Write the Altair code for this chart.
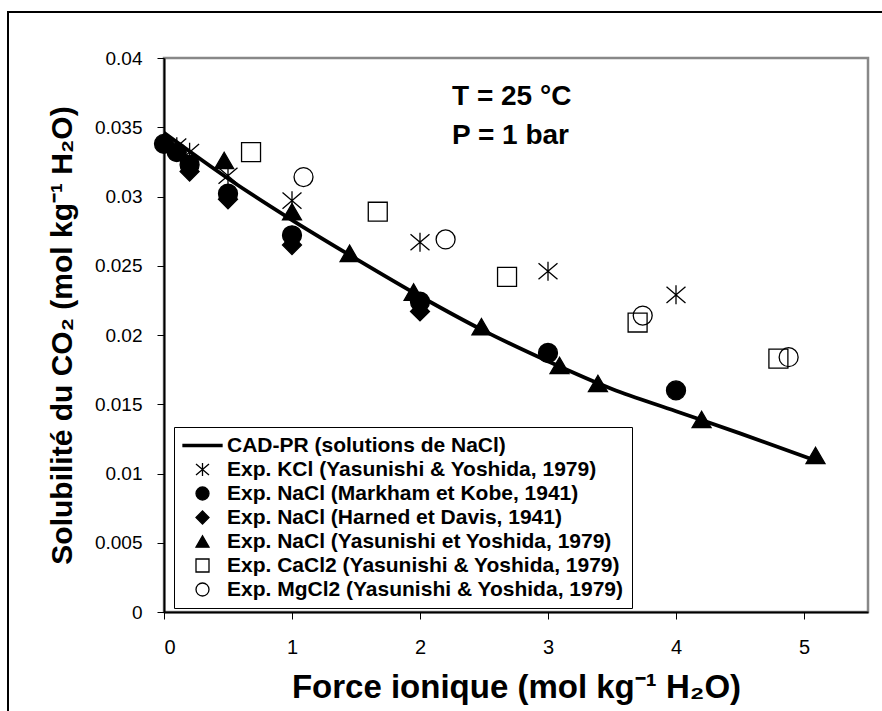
import altair as alt
import pandas as pd

# ---------------- data ----------------
S_LINE = "CAD-PR (solutions de NaCl)"
S_KCL = "Exp. KCl (Yasunishi & Yoshida, 1979)"
S_MARK = "Exp. NaCl (Markham et Kobe, 1941)"
S_HARN = "Exp. NaCl (Harned et Davis, 1941)"
S_YAS = "Exp. NaCl (Yasunishi et Yoshida, 1979)"
S_CA = "Exp. CaCl2 (Yasunishi & Yoshida, 1979)"
S_MG = "Exp. MgCl2 (Yasunishi & Yoshida, 1979)"
series_order = [S_LINE, S_KCL, S_MARK, S_HARN, S_YAS, S_CA, S_MG]

line_x = [0.0, 0.5, 1.0, 1.5, 2.0, 2.5, 3.0, 3.5, 4.0, 4.5, 5.1]
line_y = [0.0346, 0.0313, 0.0283, 0.0255, 0.0228, 0.0203, 0.0181, 0.0161, 0.0145, 0.0129, 0.0109]

kcl_x = [0.1, 0.2, 0.5, 1.0, 2.0, 3.0, 4.0]
kcl_y = [0.0336, 0.0332, 0.0315, 0.0297, 0.0267, 0.0246, 0.0229]

markham_x = [0.0, 0.1, 0.2, 0.5, 1.0, 2.0, 3.0, 4.0]
markham_y = [0.0338, 0.0332, 0.0323, 0.0302, 0.0272, 0.0224, 0.0187, 0.0160]

harned_x = [0.2, 0.5, 1.0, 2.0]
harned_y = [0.0318, 0.0298, 0.0265, 0.0217]

yas_x = [0.47, 1.0, 1.45, 1.95, 2.48, 3.09, 3.39, 4.2, 5.09]
yas_y = [0.0326, 0.0289, 0.0259, 0.0231, 0.0206, 0.0178, 0.0165, 0.0139, 0.0113]

cacl2_x = [0.68, 1.67, 2.68, 3.70, 4.80]
cacl2_y = [0.0332, 0.0289, 0.0242, 0.0209, 0.0183]

mgcl2_x = [1.09, 2.20, 3.74, 4.88]
mgcl2_y = [0.0314, 0.0269, 0.0214, 0.0184]

annot_text = ["T = 25 °C", "P = 1 bar"]
annot_x = [2.25, 2.25]
annot_y = [0.0366, 0.0338]

x_ticks = [0, 1, 2, 3, 4, 5]
y_ticks = [0, 0.005, 0.01, 0.015, 0.02, 0.025, 0.03, 0.035, 0.04]

# ---------------- styles ----------------
ASTERISK = "M0,-1L0,1M-1,-0.85L1,0.85M-1,0.85L1,-0.85"
LINE_SYM = "M-3,-0.17L3,-0.17L3,0.17L-3,0.17Z"
shape_range = [LINE_SYM, ASTERISK, "circle", "diamond", "triangle-up", "square", "circle"]
fill_range = ["black", "transparent", "black", "black", "black", "transparent", "transparent"]
stroke_range = ["black"] * 7

FONT = "Liberation Sans"

line_df = pd.DataFrame({"x": line_x, "y": line_y})
pts = []
for name, xs, ys in [(S_KCL, kcl_x, kcl_y), (S_MARK, markham_x, markham_y),
                     (S_HARN, harned_x, harned_y), (S_YAS, yas_x, yas_y),
                     (S_CA, cacl2_x, cacl2_y), (S_MG, mgcl2_x, mgcl2_y)]:
    for a, b in zip(xs, ys):
        pts.append({"x": a, "y": b, "series": name, "order": series_order.index(name)})
pts_df = pd.DataFrame(pts)
annot_df = pd.DataFrame({"x": annot_x, "y": annot_y, "t": annot_text})

xscale = alt.Scale(domain=[0, 5.5], nice=False)
yscale = alt.Scale(domain=[0, 0.04], nice=False)

xaxis = alt.Axis(values=x_ticks, format="d", title="Force ionique (mol kg⁻¹ H₂O)",
                 domainColor="black", domainWidth=2, tickColor="black", tickSize=7,
                 labelFont=FONT, labelFontSize=20, labelColor="black", labelPadding=18,
                 titleFont=FONT, titleFontSize=33, titleFontWeight="bold", titleColor="black",
                 titlePadding=14, grid=False)
yaxis = alt.Axis(values=y_ticks, format=".3~f", title="Solubilité du CO₂ (mol kg⁻¹ H₂O)",
                 domainColor="black", domainWidth=2, tickColor="black", tickSize=7,
                 labelFont=FONT, labelFontSize=19, labelColor="black", labelPadding=15,
                 titleFont=FONT, titleFontSize=30, titleFontWeight="bold", titleColor="black",
                 titlePadding=17, grid=False)

legend_kw = dict(title=None, orient="none", legendX=10, legendY=369,
                 labelFont=FONT, labelFontSize=21, labelFontWeight="bold", labelColor="black",
                 labelLimit=0,
                 symbolSize=169, symbolStrokeColor="black", symbolStrokeWidth=1.3,
                 symbolOffset=10, labelOffset=14, rowPadding=2, padding=8,
                 strokeColor="black", fillColor="white")

frame = alt.Chart(alt.Data(values=[{}])).mark_rect(
    fill="transparent", stroke="black", strokeWidth=2
).encode(x=alt.value(-156), y=alt.value(-46), x2=alt.value(760), y2=alt.value(700))

line = alt.Chart(line_df).mark_line(color="black", strokeWidth=3.8, interpolate="monotone").encode(
    x=alt.X("x:Q", scale=xscale, axis=xaxis),
    y=alt.Y("y:Q", scale=yscale, axis=yaxis),
)

points = alt.Chart(pts_df).mark_point(strokeWidth=1.3, size=360, opacity=1).encode(
    x=alt.X("x:Q", scale=xscale),
    y=alt.Y("y:Q", scale=yscale),
    shape=alt.Shape("series:N", scale=alt.Scale(domain=series_order, range=shape_range),
                    legend=alt.Legend(**legend_kw)),
    fill=alt.Fill("series:N", scale=alt.Scale(domain=series_order, range=fill_range),
                  legend=alt.Legend(**legend_kw)),
    stroke=alt.Stroke("series:N", scale=alt.Scale(domain=series_order, range=stroke_range),
                      legend=alt.Legend(**legend_kw)),
    order="order:Q",
)

annot = alt.Chart(annot_df).mark_text(align="left", baseline="alphabetic", font=FONT,
                                      fontSize=28, fontWeight="bold", color="black").encode(
    x=alt.X("x:Q", scale=xscale),
    y=alt.Y("y:Q", scale=yscale),
    text="t:N",
)

chart = alt.layer(frame, line, points, annot).properties(
    width=704, height=554,
    autosize=alt.AutoSizeParams(type="none"),
    padding={"left": 164, "top": 58, "right": 14, "bottom": 99},
    background="white",
).configure_view(stroke="#888888", strokeWidth=2.5)

chart.save("out.html", embed_options={"renderer": "svg", "actions": False})
